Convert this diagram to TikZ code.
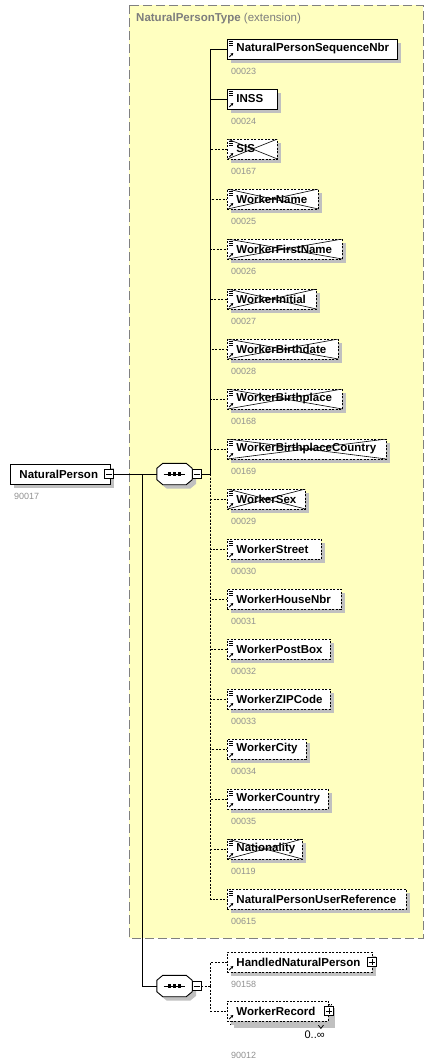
\documentclass[tikz,border=0pt]{standalone}
\usepackage{fontspec}
\setmainfont{Liberation Sans}
\usepackage{tikz}
\usetikzlibrary{shadows,arrows.meta,positioning}

\definecolor{typefill}{RGB}{255,255,192}
\definecolor{typeline}{RGB}{128,128,128}
\definecolor{titlegray}{RGB}{125,125,125}
\definecolor{codegray}{RGB}{145,145,145}
\definecolor{shadowgray}{RGB}{192,192,192}

\newcommand{\elname}[2]{\makebox[#1pt][l]{#2}}
\newcommand{\typeicon}{\draw[solid, line width=0.6pt]
  ([shift={(1.5pt,-2pt)}]path picture bounding box.north west) -- ++(4.5pt,0pt)
  ([shift={(1.5pt,-4pt)}]path picture bounding box.north west) -- ++(4.5pt,0pt)
  ([shift={(1.5pt,-6pt)}]path picture bounding box.north west) -- ++(4.5pt,0pt);}
\newcommand{\refarrow}{\draw[solid, line width=0.9pt, -{Stealth[length=2.6pt,width=3pt]}]
  ([shift={(1.8pt,2pt)}]path picture bounding box.south west) -- ++(4pt,4pt);}
\newcommand{\crosslines}{\draw[solid, line width=0.6pt]
  (path picture bounding box.north west) -- (path picture bounding box.south east)
  (path picture bounding box.south west) -- (path picture bounding box.north east);}
\newcommand{\seqdots}{\draw[solid, line width=1pt]
  ([xshift=-11pt]path picture bounding box.center) -- ([xshift=10pt]path picture bounding box.center);
  \foreach \d in {-5,0,5}
    \fill[black] ([shift={(\d pt-1.6pt,-1.6pt)}]path picture bounding box.center) rectangle ++(3.2pt,3.2pt);}
% octagon round a compositor node
\newcommand{\seqshape}[1]{\path[seqline]
  ([xshift=6pt]#1.north west) -- ([xshift=-6pt]#1.north east) -- ([yshift=-5pt]#1.north east)
  -- ([yshift=5pt]#1.south east) -- ([xshift=-6pt]#1.south east) -- ([xshift=6pt]#1.south west)
  -- ([yshift=5pt]#1.south west) -- ([yshift=-5pt]#1.north west) -- cycle;}

\tikzset{
  box/.style={draw, fill=white, line width=0.9pt, minimum height=20pt, inner xsep=9pt, inner ysep=0pt,
    anchor=west, font=\bfseries\fontsize{11.5}{13}\selectfont,
    drop shadow={shadow xshift=4pt, shadow yshift=-4pt, fill=shadowgray, draw=none, opacity=1}},
  elem/.style={box, path picture={\typeicon\refarrow}, label={[codelbl]south west:#1}},
  refel/.style={box, path picture={\refarrow}},
  crossed/.style={path picture={\typeicon\refarrow\crosslines}},
  opt/.style={dash pattern=on 2pt off 1.5pt},
  codelbl/.style={anchor=north west, xshift=4pt, yshift=-9pt, inner sep=0pt, draw=none, fill=none,
    text=codegray, font=\fontsize{9}{10}\selectfont},
  occlbl/.style={inner sep=0pt, font=\fontsize{11}{12}\selectfont},
  pm/.style={draw, fill=white, line width=0.7pt, minimum size=9pt, inner sep=0pt},
  minus/.style={pm, path picture={\draw[line width=0.7pt]
    ([xshift=1.5pt]path picture bounding box.west) -- ([xshift=-1.5pt]path picture bounding box.east);}},
  plus/.style={pm, path picture={\draw[line width=0.7pt]
    ([xshift=1.5pt]path picture bounding box.west) -- ([xshift=-1.5pt]path picture bounding box.east)
    ([yshift=-1.5pt]path picture bounding box.north) -- ([yshift=1.5pt]path picture bounding box.south);}},
  seq/.style={minimum width=35pt, minimum height=21pt, inner sep=0pt},
  seqline/.style={draw, fill=white, line width=0.9pt, path picture={\seqdots},
    drop shadow={shadow xshift=4pt, shadow yshift=-4pt, fill=shadowgray, draw=none, opacity=1}},
  busline/.style={to path={|- (\tikztotarget)}},
  conn/.style={draw, line width=0.9pt, busline},
  optconn/.style={conn, dash pattern=on 2pt off 1.5pt},
  typebox/.style={draw=typeline, fill=typefill, line width=1pt, dash pattern=on 9pt off 4pt}
}

\begin{document}
\begin{tikzpicture}[x=1pt, y=1pt]
  \useasboundingbox (0,0) rectangle (436,-1063);

  % type frame
  \draw[typebox] (129,-5) rectangle (423,-938);
  \node[anchor=west, inner sep=0pt, text=titlegray, font=\fontsize{11.5}{13}\selectfont] (ttl) at (136,-19)
    {\textbf{NaturalPersonType} (extension)};

  % root element and compositors
  \node[box, label={[codelbl]south west:90017}] (np) at (10,-474) {\elname{82}{NaturalPerson}};
  \node[minus] (npm) at (109,-474) {};
  \node[seq] (seq1) at (174.5,-474) {};
  \seqshape{seq1}
  \node[minus] (s1m) at (196.5,-474) {};
  \node[seq] (seq2) at (174.5,-986) {};
  \seqshape{seq2}
  \node[minus] (s2m) at (196.5,-986) {};

  % children of the sequence
  \node[elem=00023] (nsn) at (227,-49) {\elname{152}{NaturalPersonSequenceNbr}};
  \node[elem=00024] (inss) at (227,-99) {\elname{32}{INSS}};
  \node[elem=00167, opt, crossed] (sis) at (227,-149) {\elname{32}{SIS}};
  \node[elem=00025, opt, crossed] (wname) at (227,-199) {\elname{73}{WorkerName}};
  \node[elem=00026, opt, crossed] (wfirst) at (227,-249) {\elname{97}{WorkerFirstName}};
  \node[elem=00027, opt, crossed] (winit) at (227,-299) {\elname{71}{WorkerInitial}};
  \node[elem=00028, opt, crossed] (wbdate) at (227,-349) {\elname{93}{WorkerBirthdate}};
  \node[elem=00168, opt, crossed] (wbplace) at (227,-399) {\elname{97}{WorkerBirthplace}};
  \node[elem=00169, opt, crossed] (wbcountry) at (227,-449) {\elname{141}{WorkerBirthplaceCountry}};
  \node[elem=00029, opt, crossed] (wsex) at (227,-499) {\elname{60}{WorkerSex}};
  \node[elem=00030, opt] (wstreet) at (227,-549) {\elname{76}{WorkerStreet}};
  \node[elem=00031, opt] (whouse) at (227,-599) {\elname{96}{WorkerHouseNbr}};
  \node[elem=00032, opt] (wpbox) at (227,-649) {\elname{85}{WorkerPostBox}};
  \node[elem=00033, opt] (wzip) at (227,-699) {\elname{85}{WorkerZIPCode}};
  \node[elem=00034, opt] (wcity) at (227,-749) {\elname{61}{WorkerCity}};
  \node[elem=00035, opt] (wcountry) at (227,-799) {\elname{83}{WorkerCountry}};
  \node[elem=00119, opt, crossed] (nat) at (227,-849) {\elname{57}{Nationality}};
  \node[elem=00615, opt] (nuref) at (227,-899) {\elname{161}{NaturalPersonUserReference}};

  % children of the second sequence
  \node[refel, opt, label={[codelbl]south west:90158}] (hnp) at (227,-962) {\elname{127}{HandledNaturalPerson}};
  \node[plus] (hnpp) at ([xshift=-1pt]hnp.east) {};
  \node[box, opt] (wrecbk) at (230,-1014) {\elname{83}{}};
  \draw[line width=0.7pt] ([xshift=-14pt]wrecbk.south east) -- ++(3pt,-4pt) -- ++(3pt,4pt);
  \node[refel, opt, label={[codelbl, yshift=-22pt]south west:90012}] (wrec) at (227,-1011) {\elname{83}{WorkerRecord}};
  \node[plus] (wrecp) at (wrec.east) {};
  \node[occlbl, below left=9pt and 4pt of wrec.south east] (wrocc) {0..∞};

  % connectors
  \coordinate (split) at (142,-474);
  \coordinate (bus1) at ([xshift=9.5pt]s1m.east);
  \coordinate (bus2) at ([xshift=9.5pt]s2m.east);
  \draw[conn] (npm.east) -- (seq1.west);
  \draw[conn] (split) |- (seq2.west);
  \draw[conn] (s1m.east) -- (bus1);
  \draw[optconn] (s2m.east) -- (bus2);
  \path (bus1) edge[conn] (nsn.west) edge[conn] (inss.west)
    edge[optconn] (sis.west) edge[optconn] (wname.west) edge[optconn] (wfirst.west)
    edge[optconn] (winit.west) edge[optconn] (wbdate.west) edge[optconn] (wbplace.west)
    edge[optconn] (wbcountry.west) edge[optconn] (wsex.west) edge[optconn] (wstreet.west)
    edge[optconn] (whouse.west) edge[optconn] (wpbox.west) edge[optconn] (wzip.west)
    edge[optconn] (wcity.west) edge[optconn] (wcountry.west) edge[optconn] (nat.west)
    edge[optconn] (nuref.west);
  \path (bus2) edge[optconn] (hnp.west) edge[optconn] (wrec.west);
\end{tikzpicture}
\end{document}
